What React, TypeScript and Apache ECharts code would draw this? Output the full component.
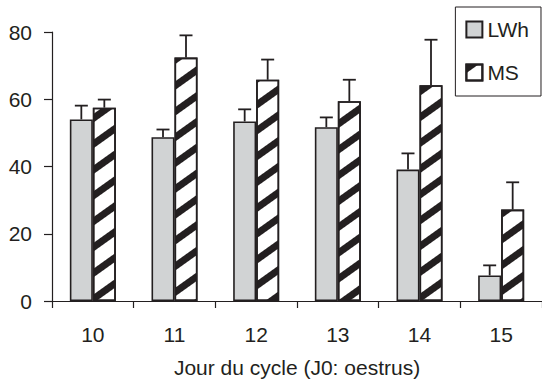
import React, { useEffect, useRef } from "react";
import * as echarts from "echarts";

const categories = ["10", "11", "12", "13", "14", "15"];
const lwhMean = [54.0, 48.7, 53.4, 51.7, 39.1, 7.6];
const lwhUpper = [58.1, 51.0, 57.0, 54.6, 43.9, 10.6];
const msMean = [57.5, 72.4, 65.8, 59.4, 64.2, 27.2];
const msUpper = [59.9, 79.0, 71.8, 65.8, 77.7, 35.3];
const yTicks = { min: 0, max: 80, interval: 20 };

const INK = "#231f20";
const GRAY = "#d1d3d4";
const BAR_W = 23;
const FONT = "'Liberation Sans', Arial, sans-serif";
const FS = 21;

function errorSeries(name: string, means: number[], uppers: number[], offset: number) {
  return {
    type: "custom",
    name: name + "-err",
    silent: true,
    z: 1,
    data: means.map((m, i) => [i, m, uppers[i]]),
    renderItem: (params: any, api: any) => {
      const i = api.value(0);
      const p0 = api.coord([i, api.value(1)]);
      const p1 = api.coord([i, api.value(2)]);
      const x = p0[0] + offset;
      const cap = 6.5;
      return {
        type: "group",
        children: [
          {
            type: "line",
            shape: { x1: x, y1: p0[1], x2: x, y2: p1[1] },
            style: { stroke: INK, lineWidth: 1.8 },
          },
          {
            type: "line",
            shape: { x1: x - cap, y1: p1[1], x2: x + cap, y2: p1[1] },
            style: { stroke: INK, lineWidth: 1.8 },
          },
        ],
      };
    },
  };
}

export default function App() {
  const ref = useRef<HTMLDivElement>(null);
  useEffect(() => {
    if (!ref.current) return;
    const chart = echarts.init(ref.current, undefined, { renderer: "svg" });
    chart.setOption({
      animation: false,
      backgroundColor: "#ffffff",
      textStyle: { fontFamily: FONT },
      grid: { left: 52, top: 32, width: 492, bottom: 82, containLabel: false },
      legend: {
        orient: "vertical",
        right: 1,
        top: 7,
        padding: [12, 12, 13, 10],
        itemGap: 22,
        itemWidth: 16,
        itemHeight: 16,
        borderColor: INK,
        borderWidth: 1,
        icon: "rect",
        textStyle: { fontSize: FS, color: INK, fontFamily: FONT },
        data: ["LWh", "MS"],
      },
      xAxis: {
        type: "category",
        data: categories,
        boundaryGap: true,
        axisLine: { lineStyle: { color: INK, width: 1.2 } },
        axisTick: { show: true, length: 7, alignWithLabel: false, lineStyle: { color: INK, width: 1.2 } },
        axisLabel: { color: INK, fontSize: FS, margin: 23, fontFamily: FONT },
        name: "Jour du cycle (J0: oestrus)",
        nameLocation: "middle",
        nameGap: 56,
        nameTextStyle: { color: INK, fontSize: FS, fontFamily: FONT },
      },
      yAxis: {
        type: "value",
        min: yTicks.min,
        max: yTicks.max,
        interval: yTicks.interval,
        splitLine: { show: false },
        axisLine: { show: true, lineStyle: { color: INK, width: 1.2 } },
        axisTick: { show: true, length: 8, lineStyle: { color: INK, width: 1.2 } },
        axisLabel: { color: INK, fontSize: FS, margin: 20, fontFamily: FONT },
      },
      series: [
        {
          type: "bar",
          name: "LWh",
          data: lwhMean,
          barWidth: BAR_W,
          barGap: "0%",
          z: 2,
          itemStyle: { color: GRAY, borderColor: INK, borderWidth: 1.6 },
        },
        {
          type: "bar",
          name: "MS",
          data: msMean,
          barWidth: BAR_W,
          barGap: "0%",
          z: 2,
          itemStyle: {
            color: "#ffffff",
            borderColor: INK,
            borderWidth: 1.6,
            decal: {
              symbol: "rect",
              symbolSize: 1,
              symbolKeepAspect: false,
              color: INK,
              dashArrayX: [1, 0],
              dashArrayY: [7, 14],
              rotation: -0.62,
            },
          },
        },
        errorSeries("LWh", lwhMean, lwhUpper, -BAR_W / 2),
        errorSeries("MS", msMean, msUpper, BAR_W / 2),
      ],
    });
    return () => chart.dispose();
  }, []);
  return (
    <div
      ref={ref}
      style={{ position: "absolute", left: 0, top: 0, width: 542, height: 383 }}
    />
  );
}
